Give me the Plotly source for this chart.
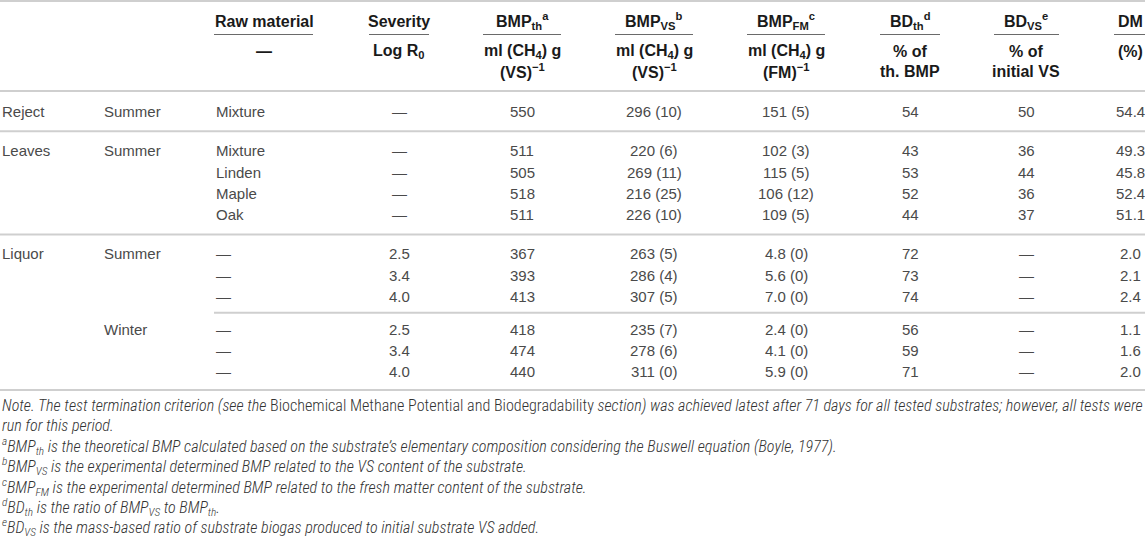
import plotly.graph_objects as go

# ---------------- data ----------------
substrate = ["Reject", "Leaves", "", "", "", "Liquor", "", "", "", "", ""]
season = ["Summer", "Summer", "", "", "", "Summer", "", "", "Winter", "", ""]
raw_material = ["Mixture", "Mixture", "Linden", "Maple", "Oak", "—", "—", "—", "—", "—", "—"]
severity = ["—", "—", "—", "—", "—", "2.5", "3.4", "4.0", "2.5", "3.4", "4.0"]
bmp_th = ["550", "511", "505", "518", "511", "367", "393", "413", "418", "474", "440"]
bmp_vs = ["296 (10)", "220 (6)", "269 (11)", "216 (25)", "226 (10)",
          "263 (5)", "286 (4)", "307 (5)", "235 (7)", "278 (6)", "311 (0)"]
bmp_fm = ["151 (5)", "102 (3)", "115 (5)", "106 (12)", "109 (5)",
          "4.8 (0)", "5.6 (0)", "7.0 (0)", "2.4 (0)", "4.1 (0)", "5.9 (0)"]
bd_th = ["54", "43", "53", "52", "44", "72", "73", "74", "56", "59", "71"]
bd_vs = ["50", "36", "44", "36", "37", "—", "—", "—", "—", "—", "—"]
dm = ["54.4", "49.3", "45.8", "52.4", "51.1", "2.0", "2.1", "2.4", "1.1", "1.6", "2.0"]

# row block structure: 0 = same block, 1 = full rule before, 2 = partial rule before
row_break = [0, 1, 0, 0, 0, 1, 0, 0, 2, 0, 0]

header1 = ["Raw material", "Severity", "BMP<sub>th</sub><sup>a</sup>", "BMP<sub>VS</sub><sup>b</sup>",
           "BMP<sub>FM</sub><sup>c</sup>", "BD<sub>th</sub><sup>d</sup>", "BD<sub>VS</sub><sup>e</sup>", "DM"]
header2a = ["—", "Log R<sub>0</sub>", "ml (CH<sub>4</sub>) g", "ml (CH<sub>4</sub>) g",
            "ml (CH<sub>4</sub>) g", "% of", "% of", "(%)"]
header2b = ["", "", "(VS)<sup>−1</sup>", "(VS)<sup>−1</sup>", "(FM)<sup>−1</sup>",
            "th. BMP", "initial VS", ""]

notes = [
    "<i>Note. The test termination criterion (see the </i>Biochemical Methane Potential and Biodegradability"
    "<i> section) was achieved latest after 71 days for all tested substrates; however, all tests were</i>",
    "<i>run for this period.</i>",
    "<i><sup>a</sup>BMP<sub>th</sub> is the theoretical BMP calculated based on the substrate’s elementary "
    "composition considering the Buswell equation (Boyle, 1977).</i>",
    "<i><sup>b</sup>BMP<sub>VS</sub> is the experimental determined BMP related to the VS content of the substrate.</i>",
    "<i><sup>c</sup>BMP<sub>FM</sub> is the experimental determined BMP related to the fresh matter content of the substrate.</i>",
    "<i><sup>d</sup>BD<sub>th</sub> is the ratio of BMP<sub>VS</sub> to BMP<sub>th</sub>.</i>",
    "<i><sup>e</sup>BD<sub>VS</sub> is the mass-based ratio of substrate biogas produced to initial substrate VS added.</i>",
]

# ---------------- layout geometry ----------------
W, H = 1145, 538
col_left = [0, 102, 214]
col_center = [264, 399, 522, 654, 786, 910, 1026, 1130]
col_span = [(214, 313), (369, 429), (483, 561), (615, 693), (747, 825), (880, 940), (994, 1059), (1114, 1145)]

BODY_FONT = "Liberation Sans, Arial, sans-serif"
NOTE_FONT = "Liberation Sans Narrow, Arial Narrow, Roboto Condensed, Liberation Sans, sans-serif"
body = dict(family=BODY_FONT, size=15, color="#4a4a4a", weight=300)
head = dict(family=BODY_FONT, size=16, color="#1a1a1a")
note_f = dict(family=NOTE_FONT, size=16.1, color="#333333", weight=300)

first_row_y = 111.7
pitch = 21.4
gap_full = 17.6
gap_part = 10.9

row_y = []
y = first_row_y
for i, b in enumerate(row_break):
    if i > 0:
        y += pitch + (gap_full if b == 1 else gap_part if b == 2 else 0)
    row_y.append(y)

annotations = []
shapes = []


def add_text(x, y, text, font, xanchor="center", bold=False):
    if not text:
        return
    annotations.append(dict(x=x, y=y, xref="x", yref="y", text=("<b>%s</b>" % text) if bold else text,
                            showarrow=False, xanchor=xanchor, yanchor="middle", font=font,
                            align="left" if xanchor == "left" else "center"))


def hline(x0, x1, y, color="#cfcfcf", width=2):
    shapes.append(dict(type="line", xref="x", yref="y", x0=x0, x1=x1, y0=y, y1=y,
                       line=dict(color=color, width=width)))


# header
hline(0, W, 1)
for cx, (x0, x1), t1, t2a, t2b in zip(col_center, col_span, header1, header2a, header2b):
    add_text(cx, 21, t1, head, bold=True)
    hline(x0, x1, 34.5, color="#6a6a6a", width=1)
    add_text(cx, 51.5, t2a, head, bold=True)
    add_text(cx, 71, t2b, head, bold=True)
hline(0, W, 91)

# body
for i, yy in enumerate(row_y):
    if row_break[i] == 1:
        hline(0, W, (row_y[i - 1] + yy) / 2)
    elif row_break[i] == 2:
        hline(col_left[2], W, (row_y[i - 1] + yy) / 2)
    add_text(col_left[0], yy, substrate[i], body, xanchor="left")
    add_text(col_left[1], yy, season[i], body, xanchor="left")
    add_text(col_left[2], yy, raw_material[i], body, xanchor="left")
    for cx, vals in zip(col_center[1:], [severity, bmp_th, bmp_vs, bmp_fm, bd_th, bd_vs, dm]):
        add_text(cx, yy, vals[i], body)
hline(0, W, row_y[-1] + 18.3)

# notes
note_y0 = 405.5
note_pitch = 20.4
for k, t in enumerate(notes):
    add_text(0, note_y0 + k * note_pitch, t, note_f, xanchor="left")

fig = go.Figure()
fig.update_layout(
    width=W, height=H,
    margin=dict(l=0, r=0, t=0, b=0),
    paper_bgcolor="white", plot_bgcolor="white",
    xaxis=dict(range=[0, W], visible=False, fixedrange=True),
    yaxis=dict(range=[H, 0], visible=False, fixedrange=True),
    annotations=annotations,
    shapes=shapes,
    showlegend=False,
)
fig.write_html("out.html", config=dict(displayModeBar=False),
               post_script="document.body.style.margin='0';document.body.style.overflow='hidden';")
